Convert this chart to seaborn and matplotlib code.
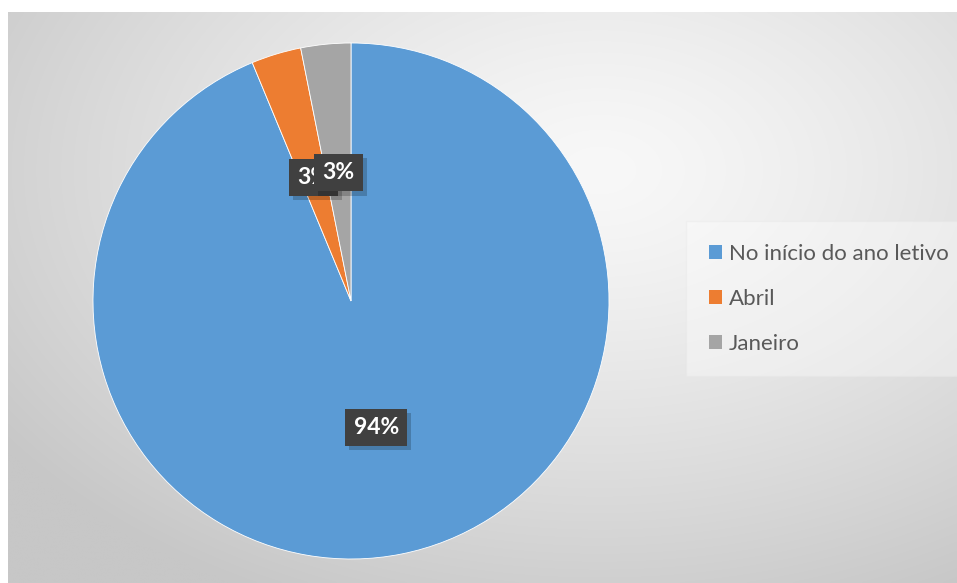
import numpy as np
import matplotlib
matplotlib.use("Agg")
import matplotlib.pyplot as plt
import matplotlib.patheffects as pe
import seaborn as sns

sns.set_theme(style="white")
plt.rcParams["font.family"] = ["Lato", "DejaVu Sans"]

# Survey answers (respondent counts) and their colours
categories = ["No início do ano letivo", "Abril", "Janeiro"]
counts = [30, 1, 1]
colors = ["#5B9BD5", "#ED7D31", "#A5A5A5"]

W, H = 957, 583
fig = plt.figure(figsize=(W / 100, H / 100), dpi=100)
fig.patch.set_facecolor("white")

# Chart area with a soft radial grey gradient
bg = fig.add_axes([8 / W, 0, (W - 8) / W, (H - 12) / H])
bg.set_axis_off()
gx, gy = np.meshgrid(np.linspace(8, W, 400), np.linspace(12, H, 260))
d = np.sqrt(((gx - 600) / 720) ** 2 + ((gy - 170) / 470) ** 2)
shade = np.clip(248 - 48 * d ** 1.3, 199, 250) / 255.0
bg.imshow(np.dstack([shade] * 3), aspect="auto", extent=[0, 1, 0, 1],
          origin="upper", interpolation="bilinear")
bg.set_xlim(0, 1)
bg.set_ylim(0, 1)

# Pie axes
cx, cy, r = 351, 301, 258
ax = fig.add_axes([(cx - r) / W, (H - cy - r) / H, 2 * r / W, 2 * r / H])
ax.set_axis_off()
wedges, texts, autotexts = ax.pie(
    counts, colors=colors, startangle=90, counterclock=False,
    autopct=lambda p: f"{p:.0f}%", pctdistance=0.5, radius=1,
    wedgeprops=dict(edgecolor="white", linewidth=0.6),
    textprops=dict(color="white", fontsize=16.5, fontweight="bold"),
)
ax.set_xlim(-1, 1)
ax.set_ylim(-1, 1)

# Dark label boxes with a soft drop shadow
for i, t in enumerate(autotexts):
    t.set_bbox(dict(boxstyle="square,pad=0.36", facecolor="#404040",
                    edgecolor="none"))
    t.set_zorder(10 + i)
    t.get_bbox_patch().set_path_effects([
        pe.SimplePatchShadow(offset=(3, -3), shadow_rgbFace="black", alpha=0.2),
        pe.Normal(),
    ])

# Legend to the right of the pie
leg = fig.legend(
    wedges, categories, loc="upper left",
    bbox_to_anchor=(693 / W, 1 - 228 / H), bbox_transform=fig.transFigure,
    frameon=True, fontsize=16, labelcolor="#595959",
    handlelength=0.6, handleheight=0.6, handletextpad=0.3,
    labelspacing=1.12, borderpad=0.72, borderaxespad=0,
)
frame = leg.get_frame()
frame.set_facecolor("white")
frame.set_alpha(0.35)
frame.set_edgecolor("#e6e6e6")
frame.set_boxstyle("square")
for h in leg.legend_handles:
    h.set_edgecolor("none")

fig.savefig("out.png", dpi=100, facecolor="white")
